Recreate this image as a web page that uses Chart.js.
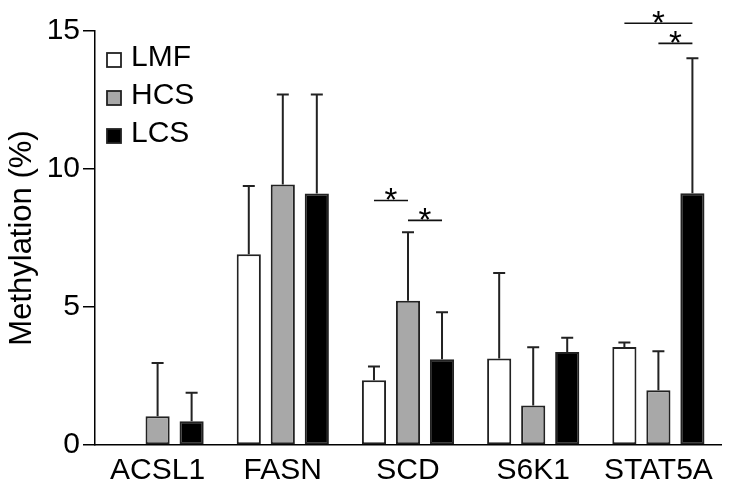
<!DOCTYPE html>
<html>
<head>
<meta charset="utf-8">
<script src="https://cdn.jsdelivr.net/npm/chart.js@4.4.1/dist/chart.umd.min.js"></script>
<style>
  html, body { margin: 0; padding: 0; background: #fff; }
</style>
</head>
<body>
<canvas id="graficoMetilacion" width="729" height="491"></canvas>
<script>
// datos
const genes = ['ACSL1', 'FASN', 'SCD', 'S6K1', 'STAT5A'];
const grupos = ['LMF', 'HCS', 'LCS'];

const lmf = [null, 6.91, 2.35, 3.13, 3.55];
const hcs = [1.04, 9.44, 5.23, 1.43, 1.98];
const lcs = [0.86, 9.11, 3.11, 3.37, 9.12];

const lmfSd = [0, 2.47, 0.49, 3.10, 0.16];
const hcsSd = [1.93, 3.26, 2.48, 2.11, 1.42];
const lcsSd = [1.03, 3.59, 1.70, 0.52, 4.89];

const yTicks = [0, 5, 10, 15];

// significancia: gen, grupo desde, grupo hasta, altura (%)
const sigGen = ['SCD', 'SCD', 'STAT5A', 'STAT5A'];
const sigDesde = [0, 1, 0, 1];
const sigHasta = [1, 2, 2, 2];
const sigAltura = [8.86, 8.14, 15.28, 14.55];

const fuente = '"Liberation Sans", Arial, sans-serif';
const colores = ['#ffffff', '#a8a8a8', '#000000'];
const errores = [lmfSd, hcsSd, lcsSd];

// barras de error (solo hacia arriba)
const barrasError = {
    id: 'barrasError',
    afterDatasetsDraw(chart) {
        const ctx = chart.ctx;
        const y = chart.scales.y;
        ctx.save();
        ctx.strokeStyle = '#222';
        ctx.lineWidth = 2;
        chart.data.datasets.forEach((ds, i) => {
            const meta = chart.getDatasetMeta(i);
            meta.data.forEach((bar, j) => {
                const v = ds.data[j];
                const sd = errores[i][j];
                if (v == null || !sd) return;
                const yTop = y.getPixelForValue(v + sd);
                ctx.beginPath();
                ctx.moveTo(bar.x, bar.y);
                ctx.lineTo(bar.x, yTop);
                ctx.moveTo(bar.x - 6, yTop);
                ctx.lineTo(bar.x + 6, yTop);
                ctx.stroke();
            });
        });
        ctx.restore();
    }
};

// corchetes con asteriscos
const significancia = {
    id: 'significancia',
    afterDraw(chart) {
        const ctx = chart.ctx;
        const y = chart.scales.y;
        ctx.save();
        ctx.strokeStyle = '#111';
        ctx.fillStyle = '#000';
        ctx.lineWidth = 1.6;
        ctx.font = '33px ' + fuente;
        ctx.textAlign = 'center';
        ctx.textBaseline = 'alphabetic';
        sigGen.forEach((g, k) => {
            const idx = genes.indexOf(g);
            const x1 = chart.getDatasetMeta(sigDesde[k]).data[idx].x;
            const x2 = chart.getDatasetMeta(sigHasta[k]).data[idx].x;
            const yy = y.getPixelForValue(sigAltura[k]);
            ctx.beginPath();
            ctx.moveTo(x1, yy);
            ctx.lineTo(x2, yy);
            ctx.stroke();
            ctx.fillText('*', (x1 + x2) / 2, yy + 11);
        });
        ctx.restore();
    }
};

// leyenda dentro del area
const leyenda = {
    id: 'leyenda',
    afterDraw(chart) {
        const ctx = chart.ctx;
        const a = chart.chartArea;
        ctx.save();
        ctx.font = '30px ' + fuente;
        ctx.textBaseline = 'middle';
        ctx.textAlign = 'left';
        grupos.forEach((g, i) => {
            const cy = a.top + 29 + i * 38;
            ctx.fillStyle = colores[i];
            ctx.fillRect(a.left + 12, cy - 7, 14, 14);
            ctx.strokeStyle = '#222';
            ctx.lineWidth = 1.8;
            ctx.strokeRect(a.left + 12, cy - 7, 14, 14);
            ctx.fillStyle = '#000';
            ctx.fillText(g, a.left + 36, cy - 2);
        });
        ctx.restore();
    }
};

const datasets = [lmf, hcs, lcs].map((serie, i) => ({
    label: grupos[i],
    data: serie,
    backgroundColor: colores[i],
    borderColor: '#222',
    borderWidth: 2,
    borderSkipped: false,
    categoryPercentage: 0.815,
    barPercentage: 0.71
}));

const ctxMetilacion = document.getElementById('graficoMetilacion');

let metilacionChart = new Chart(ctxMetilacion, {
    type: 'bar',
    data: {
        labels: genes,
        datasets: datasets
    },
    options: {
        responsive: false,
        animation: false,
        layout: { padding: { top: 31, right: 8, left: 0, bottom: 0 } },
        plugins: {
            legend: { display: false },
            tooltip: { enabled: false }
        },
        scales: {
            x: {
                grid: { display: false, drawTicks: false },
                border: { color: '#000', width: 1.5 },
                ticks: {
                    color: '#000',
                    padding: 8,
                    font: { family: fuente, size: 30 }
                },
                afterFit(scale) { scale.height = 46; }
            },
            y: {
                min: 0,
                max: 15,
                afterBuildTicks(scale) {
                    scale.ticks = yTicks.map(v => ({ value: v }));
                },
                grid: {
                    drawOnChartArea: false,
                    drawTicks: true,
                    tickLength: 12,
                    color: '#000',
                    lineWidth: 1.5
                },
                border: { color: '#000', width: 1.5 },
                ticks: {
                    color: '#000',
                    padding: 3,
                    font: { family: fuente, size: 30 }
                },
                title: {
                    display: true,
                    text: 'Methylation (%)',
                    color: '#000',
                    font: { family: fuente, size: 31 }
                },
                afterFit(scale) { scale.width = 95; }
            }
        }
    },
    plugins: [barrasError, significancia, leyenda]
});
</script>
</body>
</html>
